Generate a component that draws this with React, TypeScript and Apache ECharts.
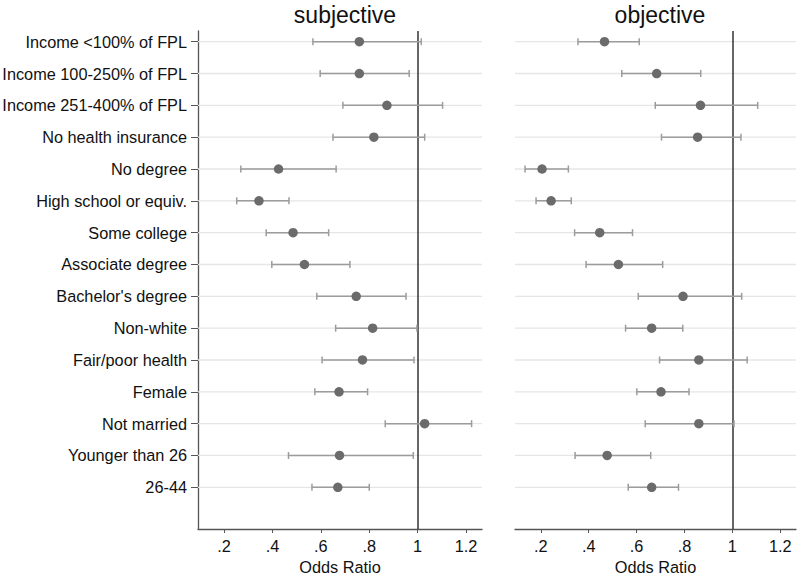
import React, { useEffect, useRef } from "react";
import * as echarts from "echarts";

const categories = [
  "Income <100% of FPL",
  "Income 100-250% of FPL",
  "Income 251-400% of FPL",
  "No health insurance",
  "No degree",
  "High school or equiv.",
  "Some college",
  "Associate degree",
  "Bachelor's degree",
  "Non-white",
  "Fair/poor health",
  "Female",
  "Not married",
  "Younger than 26",
  "26-44",
];

const subjEst = [0.759, 0.759, 0.873, 0.819, 0.425, 0.344, 0.485, 0.532, 0.746, 0.814, 0.772, 0.675, 1.029, 0.677, 0.670];
const subjLow = [0.567, 0.597, 0.691, 0.650, 0.269, 0.252, 0.374, 0.397, 0.583, 0.661, 0.605, 0.575, 0.866, 0.466, 0.563];
const subjHigh = [1.015, 0.965, 1.103, 1.029, 0.663, 0.468, 0.632, 0.720, 0.952, 0.997, 0.985, 0.793, 1.223, 0.982, 0.800];

const objEst = [0.466, 0.684, 0.867, 0.855, 0.205, 0.243, 0.446, 0.524, 0.794, 0.663, 0.860, 0.702, 0.860, 0.477, 0.663];
const objLow = [0.355, 0.538, 0.678, 0.704, 0.134, 0.180, 0.341, 0.389, 0.607, 0.554, 0.696, 0.601, 0.636, 0.343, 0.565];
const objHigh = [0.611, 0.868, 1.106, 1.036, 0.315, 0.327, 0.583, 0.709, 1.039, 0.793, 1.062, 0.819, 1.007, 0.659, 0.775];

const xTicks = [0.2, 0.4, 0.6, 0.8, 1, 1.2];
const panelTitles = ["subjective", "objective"];
const xAxisTitle = "Odds Ratio";
const referenceValue = 1;

const FONT = "'Liberation Sans', Arial, Helvetica, sans-serif";
const rowPositions = categories.map((_, i) => i + 1);

function fmtTick(v: number) {
  if (v === 1) return "1";
  const s = String(Number(v.toFixed(1)));
  return s.startsWith("0") ? s.slice(1) : s;
}

export default function App() {
  const ref = useRef<HTMLDivElement>(null);
  useEffect(() => {
    if (!ref.current) return;
    const chart = echarts.init(ref.current, undefined, { renderer: "svg" });

    const grids = [
      { left: 198, right: 317, top: 31, bottom: 46, outerBoundsMode: "none", containLabel: false },
      { left: 515, right: 3, top: 31, bottom: 46, outerBoundsMode: "none", containLabel: false },
    ];

    const xAxes = [0, 1].map((g) => ({
      type: "value",
      gridIndex: g,
      min: 0.092,
      max: 1.266,
      name: xAxisTitle,
      nameLocation: "middle",
      nameGap: 24,
      nameTextStyle: { fontFamily: FONT, fontSize: 16.3, color: "#111" },
      axisLine: { show: true, lineStyle: { color: "#555", width: 1.3 } },
      axisTick: { show: true, customValues: xTicks, length: 4, lineStyle: { color: "#555" } },
      axisLabel: {
        customValues: xTicks,
        formatter: (v: number) => fmtTick(v),
        fontFamily: FONT,
        fontSize: 16.3,
        color: "#111",
        margin: 9,
      },
      splitLine: { show: false },
    }));

    const yAxes = [0, 1].map((g) => ({
      type: "value",
      gridIndex: g,
      inverse: true,
      min: 0.664,
      max: 16.31,
      show: g === 0,
      axisLine: { show: true, lineStyle: { color: "#555", width: 1.3 } },
      axisTick: { show: true, customValues: rowPositions, length: 7, lineStyle: { color: "#555" } },
      axisLabel: {
        customValues: rowPositions,
        formatter: (v: number) => categories[Math.round(v) - 1] ?? "",
        fontFamily: FONT,
        fontSize: 16.3,
        color: "#111",
        margin: 11,
      },
      splitLine: { show: false },
    }));

    const makeSeries = (g: number, est: number[], low: number[], high: number[]) => {
      const gridData = rowPositions.map((r) => [r]);
      return [
        {
          type: "custom",
          xAxisIndex: g,
          yAxisIndex: g,
          z: 1,
          silent: true,
          data: gridData,
          renderItem: (params: any, api: any) => {
            const y = api.coord([0.5, api.value(0)])[1];
            const cs = params.coordSys;
            return {
              type: "line",
              shape: { x1: cs.x, y1: y, x2: cs.x + cs.width, y2: y },
              style: { stroke: "#e6e6e6", lineWidth: 1.3 },
            };
          },
          markLine: {
            silent: true,
            symbol: "none",
            label: { show: false },
            lineStyle: { color: "#333", width: 1.5, type: "solid" },
            data: [{ xAxis: referenceValue }],
            z: 3,
          },
        },
        {
          type: "custom",
          xAxisIndex: g,
          yAxisIndex: g,
          z: 4,
          silent: true,
          data: rowPositions.map((r, i) => [low[i], high[i], r]),
          renderItem: (params: any, api: any) => {
            const p1 = api.coord([api.value(0), api.value(2)]);
            const p2 = api.coord([api.value(1), api.value(2)]);
            const h = 3.5;
            const st = { stroke: "#9c9c9c", lineWidth: 1.5 };
            return {
              type: "group",
              children: [
                { type: "line", shape: { x1: p1[0], y1: p1[1], x2: p2[0], y2: p2[1] }, style: st },
                { type: "line", shape: { x1: p1[0], y1: p1[1] - h, x2: p1[0], y2: p1[1] + h }, style: st },
                { type: "line", shape: { x1: p2[0], y1: p2[1] - h, x2: p2[0], y2: p2[1] + h }, style: st },
              ],
            };
          },
        },
        {
          type: "scatter",
          xAxisIndex: g,
          yAxisIndex: g,
          z: 5,
          symbol: "circle",
          symbolSize: 9.5,
          itemStyle: { color: "#6b6b6b", opacity: 1 },
          data: rowPositions.map((r, i) => [est[i], r]),
        },
      ];
    };

    chart.setOption({
      animation: false,
      backgroundColor: "#fff",
      title: [
        {
          text: panelTitles[0],
          left: 340,
          top: -2,
          textAlign: "center",
          textStyle: { fontFamily: FONT, fontSize: 23, fontWeight: "normal", color: "#111" },
        },
        {
          text: panelTitles[1],
          left: 655,
          top: -2,
          textAlign: "center",
          textStyle: { fontFamily: FONT, fontSize: 23, fontWeight: "normal", color: "#111" },
        },
      ],
      grid: grids,
      xAxis: xAxes,
      yAxis: yAxes,
      series: [
        ...makeSeries(0, subjEst, subjLow, subjHigh),
        ...makeSeries(1, objEst, objLow, objHigh),
      ],
    });
    return () => chart.dispose();
  }, []);

  return (
    <div
      ref={ref}
      style={{ position: "fixed", left: 0, top: 0, width: 799, height: 575, background: "#fff" }}
    />
  );
}
